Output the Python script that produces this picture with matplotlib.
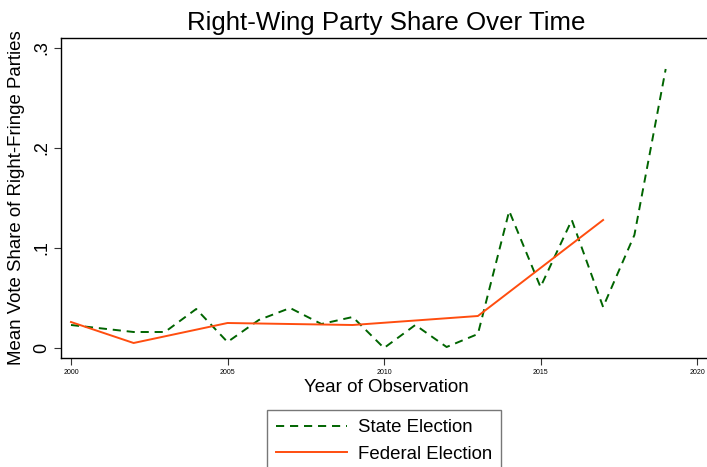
import matplotlib
matplotlib.use("Agg")
import matplotlib.pyplot as plt
from matplotlib.lines import Line2D

plt.rcParams['font.family'] = ['Liberation Sans', 'DejaVu Sans']

# Mean vote share of right-fringe parties by year of observation
state_years = [2000, 2002, 2003, 2004, 2005, 2006, 2007, 2008, 2009, 2010,
               2011, 2012, 2013, 2014, 2015, 2016, 2017, 2018, 2019]
state_share = [0.023, 0.016, 0.016, 0.039, 0.006, 0.028, 0.040, 0.024, 0.031, 0.000,
               0.023, 0.001, 0.014, 0.137, 0.061, 0.128, 0.041, 0.113, 0.279]

federal_years = [2000, 2002, 2005, 2009, 2013, 2017]
federal_share = [0.026, 0.005, 0.025, 0.023, 0.032, 0.128]

x_ticks = [2000, 2005, 2010, 2015, 2020]
y_ticks = [0, 0.1, 0.2, 0.3]
y_tick_labels = ["0", ".1", ".2", ".3"]

W, H = 707, 467
fig = plt.figure(figsize=(W / 100, H / 100), dpi=100)
fig.patch.set_facecolor("white")

left, right, top, bottom = 61, 712, 38, 358
ax = fig.add_axes([left / W, 1 - bottom / H, (right - left) / W, (bottom - top) / H])

green = "#006400"
orange = "#ff4d0f"

ax.plot(state_years, state_share, color=green, lw=1.4, dashes=(4.2, 3.0),
        label="State Election")
ax.plot(federal_years, federal_share, color=orange, lw=1.4, label="Federal Election")

# year 2000 sits 10 px inside the left spine, 2020 at x = 697
px_per_year = (697 - 71) / 20
ax.set_xlim(2000 - (71 - left) / px_per_year, 2020 + (right - 697) / px_per_year)
ax.set_ylim(-0.010, 0.310)

ax.set_xticks(x_ticks)
ax.set_xticklabels([str(t) for t in x_ticks], fontsize=5)
ax.set_yticks(y_ticks)
ax.set_yticklabels(y_tick_labels, fontsize=13, rotation=90, va="center")
ax.tick_params(axis="x", length=5, width=0.8, pad=3, color="#333333")
ax.tick_params(axis="y", length=5, width=0.8, pad=3, color="#333333")

for s in ax.spines.values():
    s.set_linewidth(1.0)
    s.set_color("black")
ax.spines["right"].set_visible(False)

ax.set_xlabel("Year of Observation", fontsize=13.5, labelpad=2)
ax.set_ylabel("Mean Vote Share of Right-Fringe Parties", fontsize=13.4, labelpad=6)
ax.set_title("Right-Wing Party Share Over Time", fontsize=18.6, pad=6)

handles = [
    Line2D([], [], color=green, lw=1.4, dashes=(4.2, 3.0)),
    Line2D([], [], color=orange, lw=1.4),
]
leg = fig.legend(handles, ["State Election", "Federal Election"],
                 loc="upper left", bbox_to_anchor=(266.5 / W, 1 - 410 / H),
                 fontsize=13.4, frameon=True, fancybox=False,
                 handlelength=3.8, handletextpad=0.6, borderpad=0.5,
                 labelspacing=0.5, borderaxespad=0)
leg.get_frame().set_edgecolor("#555555")
leg.get_frame().set_linewidth(1.0)

fig.savefig("out.png", dpi=100, facecolor="white")
